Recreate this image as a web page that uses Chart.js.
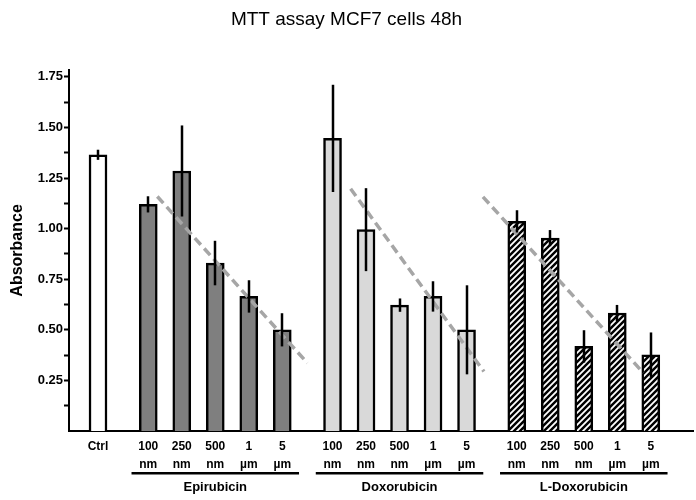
<!DOCTYPE html>
<html>
<head>
<meta charset="utf-8">
<script src="https://cdn.jsdelivr.net/npm/chart.js@4.4.1/dist/chart.umd.min.js"></script>
<style>
  html, body { margin: 0; padding: 0; background: #fff; }
</style>
</head>
<body>
<canvas id="mttChart" width="696" height="500"></canvas>
<script>
// values
const ctrlLabel = 'Ctrl';
const ctrlValue = 1.365;
const ctrlError = 0.025;
const doseLabels = [['100', 'nm'], ['250', 'nm'], ['500', 'nm'], ['1', 'µm'], ['5', 'µm']];
const groupNames = ['Epirubicin', 'Doxorubicin', 'L-Doxorubicin'];

const epirubicin = [1.12, 1.285, 0.83, 0.665, 0.50];
const epirubicinErr = [0.04, 0.225, 0.11, 0.08, 0.082];
const doxorubicin = [1.446, 0.995, 0.622, 0.665, 0.50];
const doxorubicinErr = [0.265, 0.205, 0.033, 0.075, 0.22];
const lDoxorubicin = [1.036, 0.953, 0.418, 0.583, 0.377];
const lDoxorubicinErr = [0.055, 0.04, 0.08, 0.04, 0.11];

// dashed trend lines: [dose index within group, absorbance] at each end
const trendStart = [[0.27, 1.159], [0.54, 1.197], [-1.01, 1.157]];
const trendEnd = [[4.75, 0.336], [4.52, 0.294], [3.78, 0.287]];

const yTicks = [0.125, 0.25, 0.375, 0.5, 0.625, 0.75, 0.875, 1.0, 1.125, 1.25, 1.375, 1.5, 1.625, 1.75];

// layout on the x axis (in bar slots): Ctrl at 0, groups after a 1.5 slot gap
const GROUP_GAP = 1.5;
const groupStart = g => GROUP_GAP + g * (doseLabels.length + 0.5);

const groupValues = [epirubicin, doxorubicin, lDoxorubicin];
const groupErrors = [epirubicinErr, doxorubicinErr, lDoxorubicinErr];

const barPositions = [0];
const barValues = [ctrlValue];
const barErrors = [ctrlError];
const barLabels = [ctrlLabel];
groupValues.forEach((vals, g) => {
  vals.forEach((v, i) => {
    barPositions.push(groupStart(g) + i);
    barValues.push(v);
    barErrors.push(groupErrors[g][i]);
    barLabels.push(doseLabels[i]);
  });
});

// hatch for L-Doxorubicin
function makeHatch() {
  const s = 6;
  const c = document.createElement('canvas');
  c.width = s; c.height = s;
  const g = c.getContext('2d');
  g.fillStyle = '#000';
  g.fillRect(0, 0, s, s);
  g.strokeStyle = '#fff';
  g.lineWidth = 1.8;
  g.beginPath();
  g.moveTo(0, s); g.lineTo(s, 0);
  g.moveTo(-s / 2, s / 2); g.lineTo(s / 2, -s / 2);
  g.moveTo(s / 2, s * 1.5); g.lineTo(s * 1.5, s / 2);
  g.stroke();
  return g.createPattern(c, 'repeat');
}
const hatch = makeHatch();
const groupFills = ['#7f7f7f', '#d9d9d9', hatch];
const barFills = ['#ffffff'];
groupValues.forEach((vals, g) => vals.forEach(() => barFills.push(groupFills[g])));

const trendSets = trendStart.map((s, g) => ({
  type: 'line',
  data: [
    { x: groupStart(g) + s[0], y: s[1] },
    { x: groupStart(g) + trendEnd[g][0], y: trendEnd[g][1] }
  ],
  borderColor: '#a6a6a6',
  borderWidth: 3.5,
  borderDash: [9, 5],
  pointRadius: 0,
  order: 1
}));

const errorBars = {
  id: 'errorBars',
  afterDatasetsDraw(chart) {
    const { ctx, scales: { x, y } } = chart;
    ctx.save();
    ctx.strokeStyle = '#000';
    ctx.lineWidth = 2.5;
    barValues.forEach((v, i) => {
      const px = Math.round(x.getPixelForValue(barPositions[i]));
      ctx.beginPath();
      ctx.moveTo(px, y.getPixelForValue(v + barErrors[i]));
      ctx.lineTo(px, y.getPixelForValue(v - barErrors[i]));
      ctx.stroke();
    });
    ctx.restore();
  }
};

const groupAxis = {
  id: 'groupAxis',
  afterDraw(chart) {
    const { ctx, scales: { x } } = chart;
    ctx.save();
    ctx.fillStyle = '#000';
    ctx.font = "bold 13px 'Liberation Sans', Arial, sans-serif";
    ctx.textAlign = 'center';
    ctx.textBaseline = 'middle';
    groupNames.forEach((name, g) => {
      const x0 = x.getPixelForValue(groupStart(g) - 0.5);
      const x1 = x.getPixelForValue(groupStart(g) + doseLabels.length - 0.5);
      ctx.fillRect(x0, x.top + 41, x1 - x0, 2.5);
      ctx.fillText(name, (x0 + x1) / 2, x.top + 56);
    });
    ctx.restore();
  }
};

Chart.defaults.font.family = "'Liberation Sans', Arial, sans-serif";
Chart.defaults.color = '#000';

const ctx = document.getElementById('mttChart').getContext('2d');
const mttChart = new Chart(ctx, {
  data: {
    datasets: [
      ...trendSets,
      {
        type: 'bar',
        data: barPositions.map((p, i) => ({ x: p, y: barValues[i] })),
        backgroundColor: barFills,
        borderColor: '#000',
        borderWidth: 2.5,
        barThickness: 18,
        order: 2
      }
    ]
  },
  options: {
    responsive: false,
    animation: false,
    layout: { padding: { left: 0, right: 3, top: 0, bottom: 0 } },
    plugins: {
      legend: { display: false },
      tooltip: { enabled: false },
      title: {
        display: true,
        text: 'MTT assay MCF7 cells 48h',
        font: { size: 19, weight: 'normal' },
        color: '#000',
        padding: { top: 8, bottom: 39 }
      }
    },
    scales: {
      x: {
        type: 'linear',
        offset: false,
        min: -0.866,
        max: 17.76,
        afterBuildTicks: axis => { axis.ticks = barPositions.map(v => ({ value: v })); },
        ticks: {
          autoSkip: false,
          maxRotation: 0,
          padding: 7,
          font: { size: 12, weight: 'bold', lineHeight: 1.5 },
          color: '#000',
          callback: (v, i) => barLabels[i]
        },
        grid: { display: false, drawTicks: false },
        border: { color: '#000', width: 2 },
        afterFit: s => { s.height = 69; }
      },
      y: {
        min: 0,
        max: 1.785,
        afterBuildTicks: axis => { axis.ticks = yTicks.map(v => ({ value: v })); },
        ticks: {
          padding: 1,
          font: { size: 13, weight: 'bold' },
          color: '#000',
          callback: v => (Math.round(v * 1000) % 250 === 0 ? v.toFixed(2) : '')
        },
        grid: { drawOnChartArea: false, drawTicks: true, tickLength: 5, tickWidth: 2, tickColor: '#000' },
        border: { color: '#000', width: 2 },
        title: {
          display: true,
          text: 'Absorbance',
          font: { size: 16, weight: 'bold' },
          color: '#000',
          padding: { top: 8, bottom: 0 }
        },
        afterFit: s => { s.width = 69; }
      }
    }
  },
  plugins: [errorBars, groupAxis]
});
</script>
</body>
</html>
